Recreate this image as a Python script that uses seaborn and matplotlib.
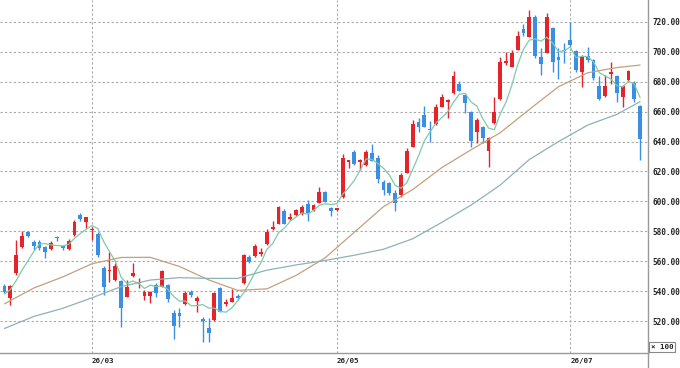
import numpy as np
import seaborn as sns
import matplotlib
matplotlib.use('Agg')
import matplotlib.pyplot as plt

sns.set_style('white')

# daily candles (price x 100)
opens = [543.6, 535.2, 551.9, 569.3, 579.3, 572.6, 572.6, 569.3, 568.2, 575.5,
         570.4, 568.2, 577.5, 590.9, 586.4, 580.8, 578.0, 555.3, 553.3, 547.4,
         547.0, 536.3, 550.2, 545.3, 536.7, 536.7, 544.1, 543.0, 544.1, 525.6,
         525.3, 531.4, 539.6, 533.4, 521.5, 515.3, 520.7, 541.9, 531.4, 532.9,
         537.0, 545.2, 563.0, 563.5, 564.8, 571.5, 581.3, 585.2, 593.6, 588.0,
         590.7, 591.6, 598.2, 594.3, 599.2, 606.3, 595.8, 594.0, 602.7, 626.6,
         633.2, 626.4, 624.3, 632.6, 628.8, 613.2, 612.0, 605.8, 604.5, 619.2,
         636.6, 653.0, 657.8, 648.5, 651.8, 663.4, 666.7, 672.3, 678.5, 671.2,
         660.0, 646.6, 650.0, 633.9, 652.2, 668.3, 692.8, 690.1, 701.3, 715.1,
         710.2, 723.5, 696.4, 699.5, 715.8, 696.4, 701.0, 708.0, 700.6, 686.8,
         697.3, 694.6, 677.2, 670.5, 685.2, 683.9, 670.0, 681.3, 679.0, 663.8]
highs = [544.5, 544.0, 574.2, 580.4, 580.4, 574.2, 574.0, 570.2, 573.7, 576.9,
         570.8, 574.6, 587.6, 592.0, 589.6, 583.0, 579.7, 556.8, 566.4, 559.0,
         547.4, 547.4, 558.6, 548.5, 540.7, 540.0, 545.2, 554.0, 545.0, 527.4,
         528.5, 540.0, 540.7, 536.7, 522.5, 522.0, 539.4, 543.0, 534.7, 541.4,
         538.0, 564.8, 564.0, 571.5, 568.6, 581.5, 587.0, 596.9, 594.7, 592.0,
         595.0, 597.6, 600.9, 598.2, 609.4, 607.2, 596.5, 595.8, 631.7, 628.0,
         634.4, 628.4, 634.4, 638.4, 631.0, 614.0, 613.0, 607.6, 619.0, 635.7,
         654.4, 655.8, 663.8, 654.0, 665.0, 671.8, 668.5, 687.0, 680.5, 671.8,
         660.5, 656.0, 650.5, 643.3, 670.0, 696.8, 700.1, 701.3, 714.0, 718.7,
         728.0, 724.7, 702.4, 725.8, 716.5, 702.4, 705.8, 720.2, 701.2, 698.0,
         703.5, 695.2, 683.9, 684.5, 693.4, 684.5, 677.6, 688.0, 680.7, 664.5]
lows = [538.5, 530.7, 550.8, 569.0, 576.4, 567.5, 567.8, 561.9, 567.5, 573.7,
        567.5, 567.8, 577.0, 587.1, 582.0, 574.2, 563.0, 537.4, 546.3, 547.0,
        515.8, 535.8, 549.6, 541.9, 534.0, 532.2, 535.9, 542.5, 532.9, 507.8,
        516.2, 530.5, 536.3, 526.2, 506.2, 506.2, 520.0, 526.0, 530.0, 532.5,
        534.0, 544.7, 558.6, 563.0, 563.5, 571.0, 580.8, 584.8, 584.9, 587.6,
        590.3, 591.0, 587.1, 593.8, 598.8, 599.5, 590.4, 593.5, 602.3, 622.1,
        624.5, 621.0, 624.0, 627.0, 612.0, 604.3, 604.5, 593.8, 603.0, 618.8,
        636.2, 646.4, 649.5, 640.0, 651.4, 663.0, 655.6, 672.0, 673.6, 659.0,
        636.2, 639.3, 639.0, 623.2, 651.8, 668.0, 691.2, 689.8, 701.0, 710.5,
        709.8, 696.0, 684.5, 699.0, 686.8, 682.0, 692.8, 703.5, 686.5, 676.7,
        693.5, 681.5, 667.5, 670.0, 678.3, 666.7, 663.4, 680.8, 666.7, 627.7]
closes = [539.2, 543.1, 564.1, 577.1, 577.1, 570.4, 568.6, 566.0, 572.4, 575.2,
          569.0, 573.7, 586.4, 588.0, 589.4, 581.5, 564.1, 543.0, 554.0, 556.8,
          528.5, 543.0, 551.8, 545.9, 539.6, 539.6, 538.5, 553.2, 535.0, 516.4,
          523.5, 538.9, 537.2, 535.3, 520.3, 511.8, 538.5, 526.2, 532.9, 535.2,
          535.2, 564.1, 559.7, 570.2, 566.4, 579.7, 583.1, 596.0, 585.2, 589.4,
          594.3, 596.5, 592.0, 597.6, 606.1, 599.8, 593.8, 595.4, 628.8, 627.7,
          624.8, 627.7, 633.2, 627.2, 614.8, 607.6, 605.3, 598.7, 617.5, 633.9,
          651.8, 650.0, 650.0, 647.5, 663.4, 669.6, 667.8, 683.9, 674.0, 666.0,
          640.6, 654.4, 642.2, 642.2, 660.0, 693.0, 694.1, 699.0, 710.6, 712.4,
          723.5, 697.5, 691.9, 723.5, 693.4, 694.6, 700.5, 704.6, 687.9, 697.3,
          694.4, 682.3, 668.5, 677.2, 686.8, 672.7, 677.2, 687.4, 668.3, 641.5]

# short moving average, one value per candle
ma5 = [538.0, 541.0, 547.0, 554.0, 560.1, 566.4, 571.5, 571.8, 570.9, 570.5,
       570.2, 571.3, 575.3, 578.5, 581.3, 583.8, 581.9, 573.2, 566.4, 559.9,
       549.3, 545.1, 546.8, 545.2, 541.8, 544.0, 543.1, 543.4, 541.2, 536.5,
       533.3, 533.4, 530.2, 530.3, 531.0, 528.7, 528.6, 526.4, 525.9, 528.9,
       533.6, 538.7, 545.4, 552.9, 559.1, 568.0, 571.8, 579.1, 582.1, 586.7,
       589.6, 592.3, 591.5, 594.0, 597.3, 598.4, 597.9, 598.5, 604.8, 609.1,
       614.1, 620.9, 628.4, 628.1, 625.5, 622.1, 617.6, 610.7, 608.8, 612.6,
       621.4, 630.4, 640.6, 646.6, 652.5, 656.1, 659.7, 666.4, 671.7, 672.3,
       666.5, 663.8, 655.4, 649.1, 647.9, 658.4, 666.3, 677.7, 691.3, 701.8,
       707.9, 708.6, 707.2, 709.8, 706.0, 700.2, 700.8, 703.3, 696.2, 697.0,
       696.9, 693.3, 686.1, 683.9, 681.8, 677.5, 676.5, 680.3, 678.5, 669.4]

# medium / long moving averages read every 5 candles
ma_pos = [0, 5, 10, 15, 20, 25, 30, 35, 40, 45, 50, 55,
          60, 65, 70, 75, 80, 85, 90, 95, 100, 105, 109]
ma25 = [531.5, 542.0, 549.5, 558.3, 562.5, 562.6, 556.5, 547.5, 540.5, 541.5, 550.5, 562.3,
        579.4, 596.5, 607.9, 622.6, 634.5, 645.9, 661.5, 676.7, 686.0, 689.5, 691.2]
ma_long = [515.0, 523.0, 528.5, 535.5, 543.0, 547.4, 549.0, 548.5, 548.5, 554.0, 557.5, 560.5,
           564.0, 568.0, 575.0, 586.0, 597.5, 610.9, 628.0, 640.0, 651.0, 658.2, 666.7]

tick_pos = [15, 57, 97]
tick_labels = ['26/03', '26/05', '26/07']
y_ticks = [520, 540, 560, 580, 600, 620, 640, 660, 680, 700, 720]

red = '#e5232b'
blue = '#3b8fe3'
grid_c = '#a8a8a8'
font = ['DejaVu Sans Mono']

o = np.array(opens)
c = np.array(closes)
idx = np.arange(len(c))
cols = np.where(c >= o, red, blue)

fig = plt.figure(figsize=(6.8, 3.68), dpi=100)
ax = fig.add_axes([0, 15 / 368, 647.7 / 680, 353 / 368])

ax.vlines(idx, lows, highs, colors=cols, lw=1, zorder=3)
ax.bar(idx, np.maximum(np.abs(c - o), 0.7), bottom=np.minimum(o, c),
       width=0.66, color=cols, linewidth=0, zorder=4)

sns.lineplot(x=idx, y=ma5, color='#7fcaa8', lw=0.9, ax=ax, zorder=5)
sns.lineplot(x=ma_pos, y=ma25, color='#c4a07c', lw=0.9, ax=ax, zorder=5)
sns.lineplot(x=ma_pos, y=ma_long, color='#8db2b6', lw=0.9, ax=ax, zorder=5)

ax.set_xlim(-0.77, 110.3)
ax.set_ylim(498.6, 734.7)

ax.set_yticks(y_ticks)
ax.set_yticklabels(['%.2f' % v for v in y_ticks], family=font, weight='bold',
                   fontsize=5.6, color='#222222')
ax.yaxis.tick_right()
ax.tick_params(axis='y', length=0, pad=3.5)

ax.set_xticks(tick_pos)
ax.set_xticklabels(tick_labels, family=font, weight='bold', fontsize=5.4,
                   color='#222222', ha='left')
ax.tick_params(axis='x', length=3, width=0.8, color=grid_c, pad=0.3, direction='out')

ax.grid(True, color=grid_c, lw=0.8, linestyle=(0, (2, 2)))
for s in ['left', 'top']:
    ax.spines[s].set_visible(False)
for s in ['right', 'bottom']:
    ax.spines[s].set_color('#9a9a9a')
    ax.spines[s].set_linewidth(1)
ax.plot([1, 1], [0, -0.06], transform=ax.transAxes, color='#9a9a9a', lw=1, clip_on=False)

fig.text(0.9735, 0.057, '× 100', family=font, weight='bold', fontsize=5.4,
         color='#222222', ha='center', va='center',
         bbox=dict(boxstyle='square,pad=0.25', fc='white', ec='#888888', lw=0.8))

fig.savefig('out.png', dpi=100)
